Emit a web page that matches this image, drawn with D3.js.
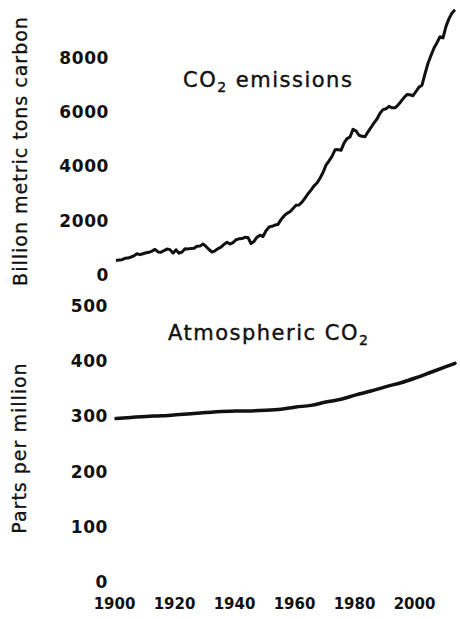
<!DOCTYPE html>
<html>
<head>
<meta charset="utf-8">
<script src="https://cdn.jsdelivr.net/npm/d3@7"></script>
<style>
  html, body { margin: 0; padding: 0; background: #fff; }
  svg { display: block; }
  text { fill: #111; font-family: "DejaVu Sans", sans-serif; }
</style>
</head>
<body>
<svg id="chart" width="460" height="619"></svg>
<script>
// ---- Data ----
const emissionsStartYear = 1900;
// Global CO2 emissions (as labelled: "Billion metric tons carbon"), 1900-2013
const emissions = [
  534, 552, 566, 617, 624, 663, 707, 784, 750, 785,
  819, 836, 879, 943, 850, 838, 901, 955, 936, 806,
  932, 803, 845, 970, 963, 975, 983, 1062, 1065, 1145,
  1053, 940, 847, 893, 973, 1027, 1130, 1209, 1142, 1192,
  1299, 1334, 1342, 1391, 1383, 1160, 1238, 1392, 1469, 1419,
  1630, 1767, 1795, 1841, 1865, 2042, 2177, 2270, 2330, 2454,
  2569, 2580, 2686, 2833, 2995, 3130, 3288, 3393, 3566, 3780,
  4053, 4208, 4376, 4614, 4623, 4596, 4864, 5026, 5087, 5369,
  5315, 5152, 5113, 5094, 5280, 5439, 5607, 5752, 5965, 6097,
  6127, 6217, 6164, 6162, 6266, 6398, 6542, 6651, 6643, 6610,
  6765, 6927, 6996, 7416, 7807, 8093, 8370, 8566, 8783, 8740,
  9167, 9450, 9660, 9780
];
const co2Years = [1900, 1905, 1910, 1915, 1920, 1925, 1930, 1935, 1940, 1945, 1950, 1955,
                  1960, 1965, 1970, 1975, 1980, 1985, 1990, 1995, 2000, 2005, 2010, 2013];
const co2ppm   = [296, 298, 300, 301, 303, 305, 307, 309, 310, 310, 311, 313,
                  317, 320, 326, 331, 339, 346, 354, 361, 370, 380, 390, 396];
const xTicks = [1900, 1920, 1940, 1960, 1980, 2000];
const emissionTicks = [0, 2000, 4000, 6000, 8000];
const ppmTicks = [0, 100, 200, 300, 400, 500];

// ---- Chart ----
const svg = d3.select("#chart");

const x = d3.scaleLinear().domain([1900, 2013]).range([116, 455]);
const yTop = d3.scaleLinear().domain([0, 8000]).range([275, 58]);
const yBot = d3.scaleLinear().domain([0, 500]).range([582, 306]);

const emData = emissions.map((v, i) => ({ year: emissionsStartYear + i, value: v }));
const ppmData = co2Years.map((yr, i) => ({ year: yr, value: co2ppm[i] }));

function styleAxis(g, size, spacing) {
  g.select(".domain").remove();
  g.selectAll(".tick line").remove();
  g.selectAll(".tick text")
    .attr("fill", "#111")
    .style("font-family", "'DejaVu Sans', sans-serif")
    .style("font-weight", "bold")
    .style("letter-spacing", spacing + "px")
    .style("font-size", size + "px");
}

// Top y axis
svg.append("g")
  .attr("transform", "translate(109,0)")
  .call(d3.axisLeft(yTop).tickValues(emissionTicks).tickSize(0).tickPadding(0).tickFormat(d3.format("d")))
  .call(g => styleAxis(g, 17, 0.6));

// Bottom y axis
svg.append("g")
  .attr("transform", "translate(108,0)")
  .call(d3.axisLeft(yBot).tickValues(ppmTicks).tickSize(0).tickPadding(0).tickFormat(d3.format("d")))
  .call(g => styleAxis(g, 17, 0.6));

// X axis
svg.append("g")
  .attr("transform", "translate(-2,598)")
  .call(d3.axisBottom(x).tickValues(xTicks).tickSize(0).tickPadding(0).tickFormat(d3.format("d")))
  .call(g => styleAxis(g, 15, 0));

// Lines
const lineTop = d3.line().x(d => x(d.year)).y(d => yTop(d.value));
const lineBot = d3.line().x(d => x(d.year)).y(d => yBot(d.value)).curve(d3.curveMonotoneX);

svg.append("path")
  .datum(emData)
  .attr("d", lineTop)
  .attr("fill", "none")
  .attr("stroke", "#111")
  .attr("stroke-width", 3)
  .attr("stroke-linejoin", "round");

svg.append("path")
  .datum(ppmData)
  .attr("d", lineBot)
  .attr("fill", "none")
  .attr("stroke", "#111")
  .attr("stroke-width", 3.5)
  .attr("stroke-linecap", "round");

// Titles
const t1 = svg.append("text")
  .attr("x", 183).attr("y", 87)
  .attr("stroke", "#111").attr("stroke-width", 0.4)
  .style("font-size", "21px").style("letter-spacing", "1.5px");
t1.append("tspan").text("CO");
t1.append("tspan").attr("dy", 5).style("font-size", "14px").text("2");
t1.append("tspan").attr("dy", -5).text(" emissions");

const t2 = svg.append("text")
  .attr("x", 168).attr("y", 340)
  .attr("stroke", "#111").attr("stroke-width", 0.4)
  .style("font-size", "21px").style("letter-spacing", "1.5px");
t2.append("tspan").text("Atmospheric CO");
t2.append("tspan").attr("dy", 5).style("font-size", "14px").text("2");

// Axis titles
svg.append("text")
  .attr("transform", "translate(27,151) rotate(-90)")
  .attr("text-anchor", "middle")
  .attr("stroke", "#111").attr("stroke-width", 0.3)
  .style("font-size", "19px")
  .style("letter-spacing", "1px")
  .text("Billion metric tons carbon");

svg.append("text")
  .attr("transform", "translate(26,448) rotate(-90)")
  .attr("text-anchor", "middle")
  .attr("stroke", "#111").attr("stroke-width", 0.3)
  .style("font-size", "19px")
  .style("letter-spacing", "1px")
  .text("Parts per million");
</script>
</body>
</html>
